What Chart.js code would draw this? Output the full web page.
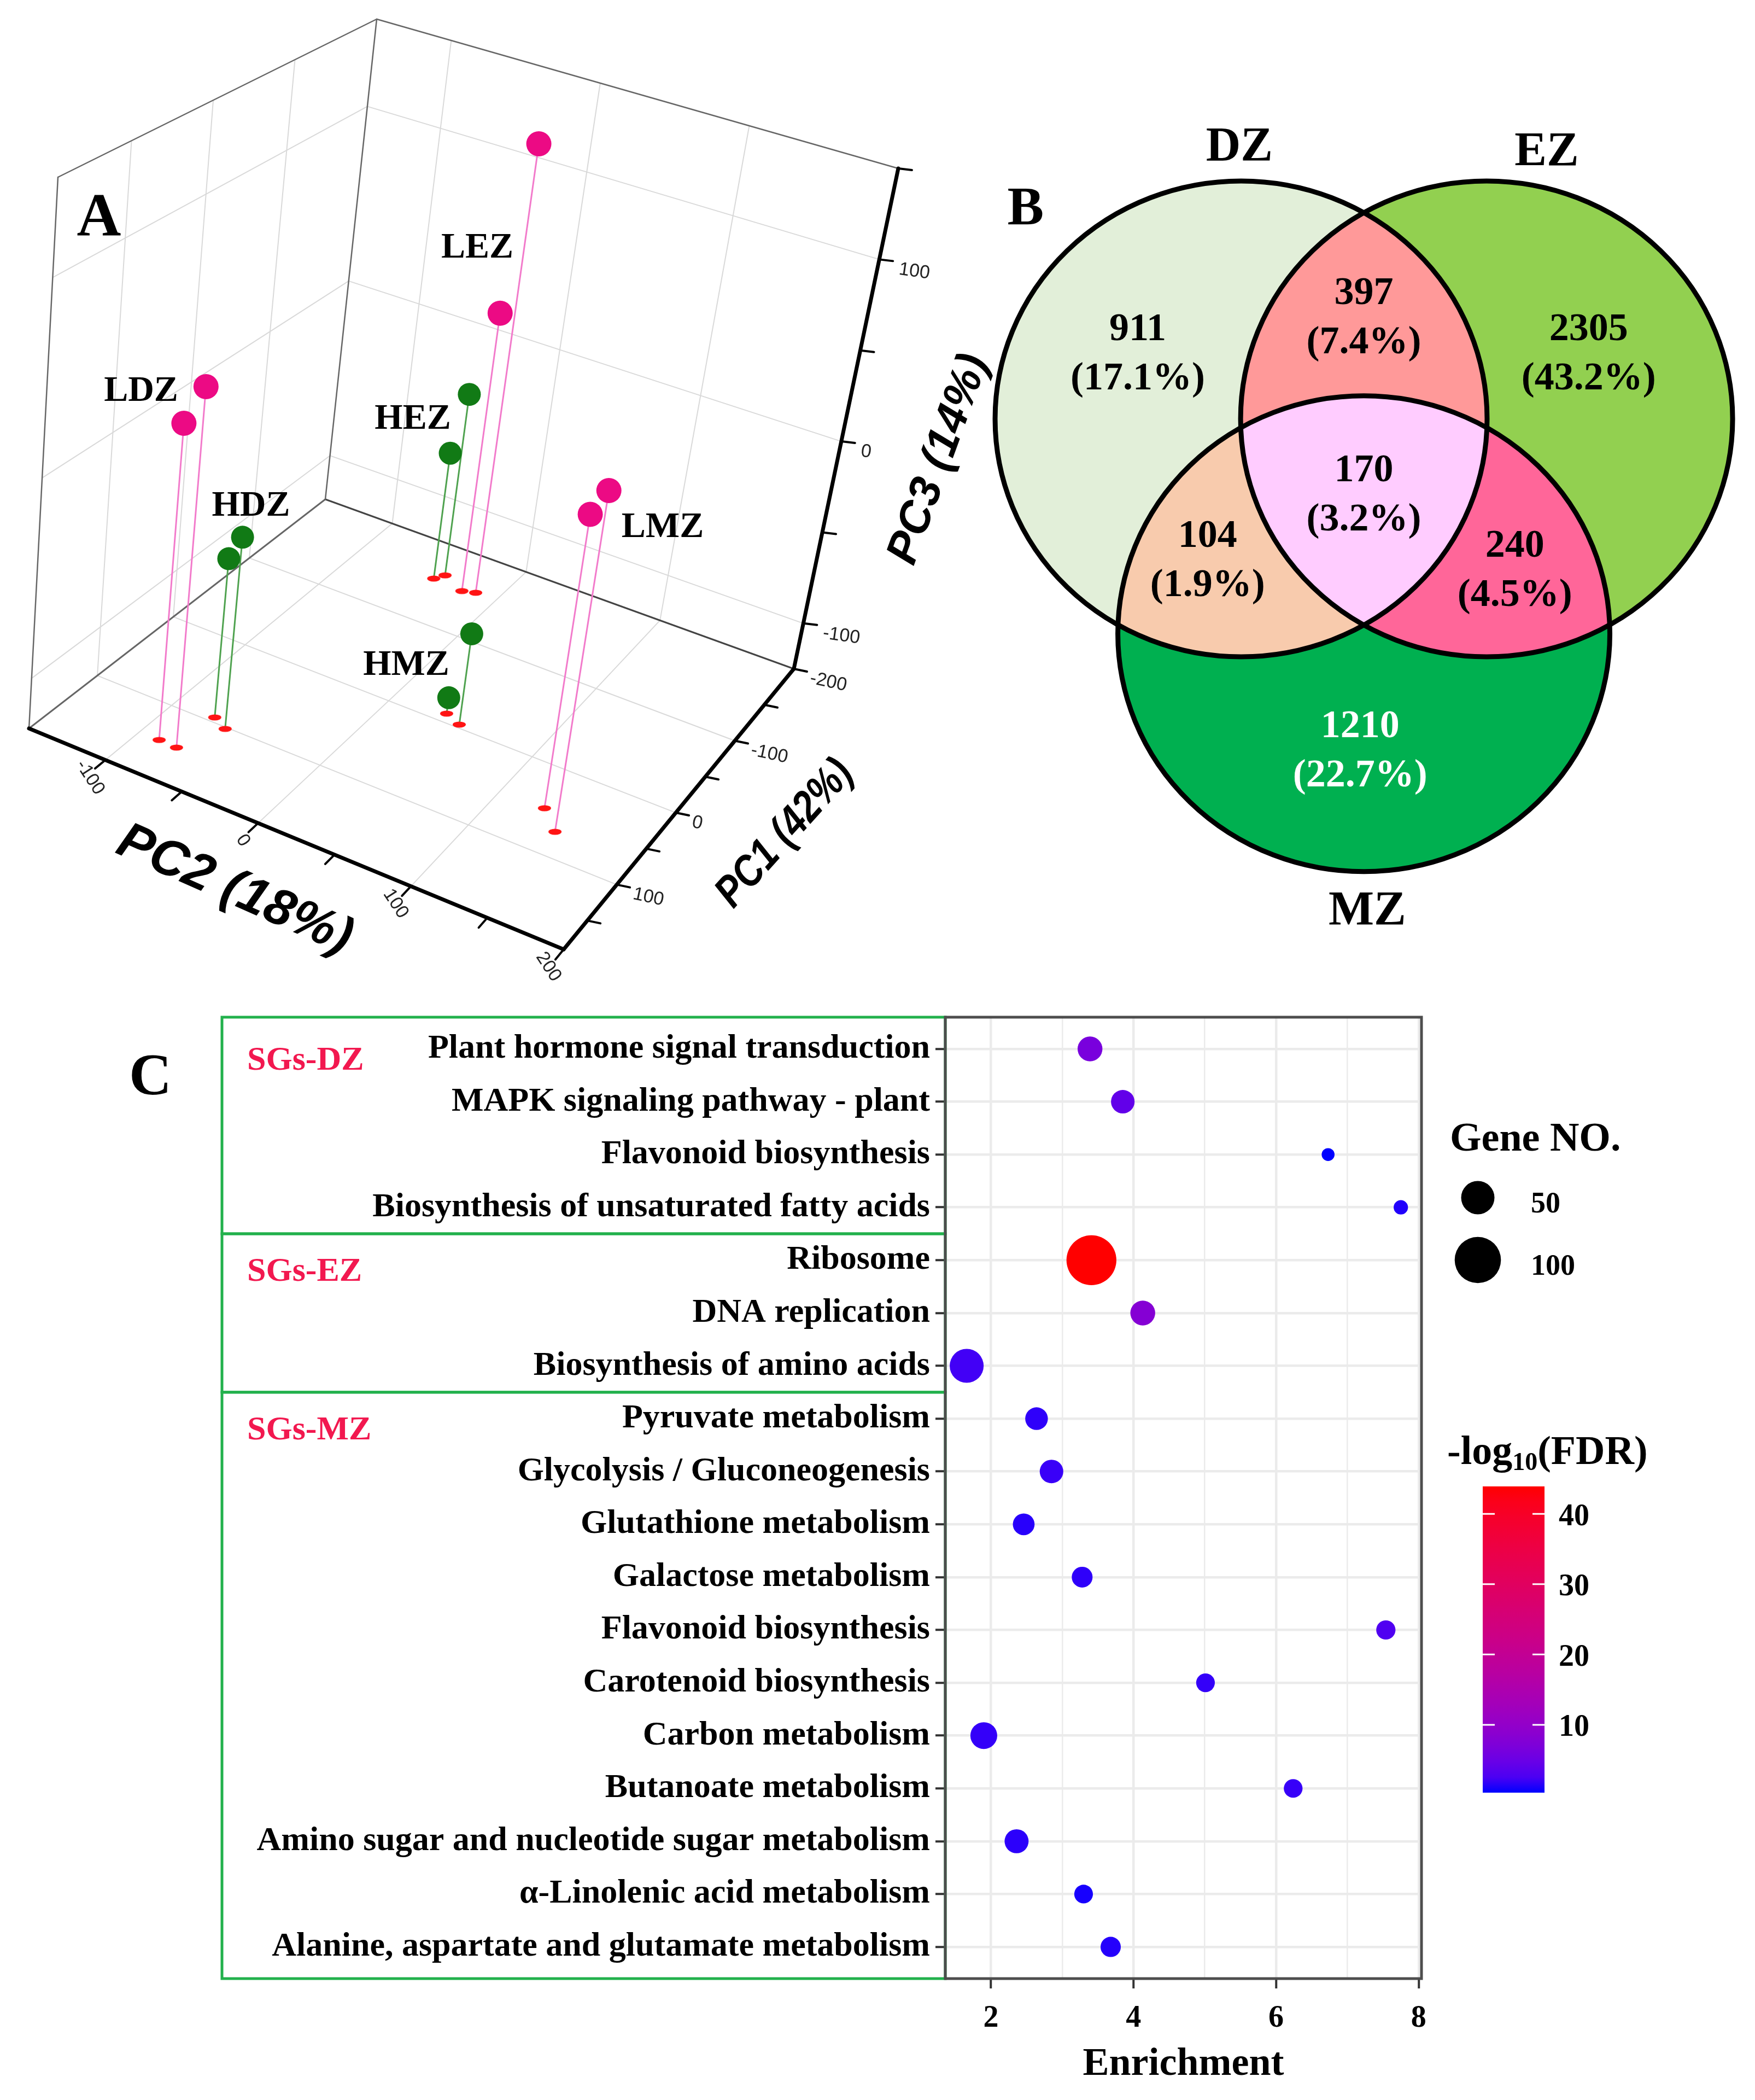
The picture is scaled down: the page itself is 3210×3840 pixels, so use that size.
<!DOCTYPE html>
<html>
<head>
<meta charset="utf-8">
<title>PCA, Venn and KEGG enrichment</title>
<script src="https://cdn.jsdelivr.net/npm/chart.js@4.4.1/dist/chart.umd.min.js"></script>
<style>
  html, body { margin: 0; padding: 0; background: #fff; }
  body { position: relative; width: 3210px; height: 3840px; overflow: hidden; }
  canvas { position: absolute; }
  #pca  { left: 0; top: 0; }
  #venn { left: 1780px; top: 150px; }
  #kegg { left: 0; top: 1840px; }
</style>
</head>
<body>
<canvas id="pca" width="1820" height="1850"></canvas>
<canvas id="venn" width="1430" height="1620"></canvas>
<canvas id="kegg" width="3210" height="2000"></canvas>
<script>
var SERIF = '"Liberation Serif", "Times New Roman", serif';
var SANS = '"Liberation Sans", Arial, sans-serif';

/*************************  Data: panel A (PCA)  ***************************/
var sampleNames = ['LDZ', 'LDZ', 'HDZ', 'HDZ', 'LEZ', 'LEZ', 'HEZ', 'HEZ', 'LMZ', 'LMZ', 'HMZ', 'HMZ'];
var pc1 = [143.7, 144.3, 94.1, 102.1, -152.3, -156.1, -154.7, -163.0, 49.9, 70.5, -10.6, -4.0];
var pc2 = [-86.9, -75.1, -73.8, -62.9, -23.1, -14.9, -45.0, -41.0, 130.2, 146.1, 35.4, 47.3];
var pc3 = [34.3, 56.3, -43.9, -27.5, 29.0, 123.9, -55.3, -24.1, 23.9, 46.4, -116.7, -77.7];
var pc1Ticks = [-200, -100, 0, 100];
var pc2Ticks = [-100, 0, 100, 200];
var pc3Ticks = [-100, 0, 100];
var pcTitles = ['PC1 (42%)', 'PC2 (18%)', 'PC3 (14%)'];

/*************************  Data: panel B (Venn)  **************************/
var vennSets = ['DZ', 'EZ', 'MZ'];
var vennMembers = [[0], [0, 1], [1], [0, 1, 2], [0, 2], [1, 2], [2]];
var vennCounts = [911, 397, 2305, 170, 104, 240, 1210];
var vennPercent = [17.1, 7.4, 43.2, 3.2, 1.9, 4.5, 22.7];

/*************************  Data: panel C (KEGG)  **************************/
var groupNames = ['SGs-DZ', 'SGs-EZ', 'SGs-MZ'];
var groupSizes = [4, 3, 11];
var pathways = [
  'Plant hormone signal transduction', 'MAPK signaling pathway - plant', 'Flavonoid biosynthesis',
  'Biosynthesis of unsaturated fatty acids', 'Ribosome', 'DNA replication', 'Biosynthesis of amino acids',
  'Pyruvate metabolism', 'Glycolysis / Gluconeogenesis', 'Glutathione metabolism', 'Galactose metabolism',
  'Flavonoid biosynthesis', 'Carotenoid biosynthesis', 'Carbon metabolism', 'Butanoate metabolism',
  'Amino sugar and nucleotide sugar metabolism', '\u03b1-Linolenic acid metabolism',
  'Alanine, aspartate and glutamate metabolism'
];
var enrichment = [3.39, 3.85, 6.73, 7.75, 3.41, 4.13, 1.66, 2.64, 2.85, 2.46, 3.28, 7.54, 5.01, 1.90, 6.24, 2.36, 3.30, 3.68];
var geneNo = [26, 23, 4, 6, 117, 26, 52, 21, 23, 19, 17, 14, 13, 31, 13, 24, 13, 16];
var negLogFDR = [6.5, 4.2, 0.35, 0.8, 43.9, 8.0, 2.0, 1.2, 1.6, 1.0, 1.2, 2.8, 1.4, 1.4, 1.5, 1.1, 0.6, 0.9];
var enrichTicks = [2, 4, 6, 8];
var sizeLegend = [50, 100];
var fdrTicks = [10, 20, 30, 40];


/*******************************  Panel A  *********************************/
// ranges of the box: pc1 runs front -> back, pc2 left -> right, pc3 bottom -> top
var boxRange = { pc1: [190, -200], pc2: [-150, 200], pc3: [-125, 150] };
// canvas position of the eight box corners (floor A D C B, roof F H G E)
var boxCorners = {
  A: [53, 1332], D: [1031, 1736], C: [1452, 1223], B: [595, 913],
  F: [106, 324], H: [1199, 688], G: [1643, 308], E: [689, 35]
};
var sampleLabelPos = { LDZ: [258, 716], HDZ: [459, 926], LEZ: [873, 454], HEZ: [755, 767], LMZ: [1212, 965], HMZ: [743, 1217] };

function lerp2(a, b, t) { return [a[0] + (b[0] - a[0]) * t, a[1] + (b[1] - a[1]) * t]; }

function project(p1, p2, p3) {
  var k = boxCorners;
  var u = (p2 - boxRange.pc2[0]) / (boxRange.pc2[1] - boxRange.pc2[0]);
  var v = (p1 - boxRange.pc1[0]) / (boxRange.pc1[1] - boxRange.pc1[0]);
  var w = (p3 - boxRange.pc3[0]) / (boxRange.pc3[1] - boxRange.pc3[0]);
  var floor = lerp2(lerp2(k.A, k.D, u), lerp2(k.B, k.C, u), v);
  var roof = lerp2(lerp2(k.F, k.H, u), lerp2(k.E, k.G, u), v);
  var p = lerp2(floor, roof, w);
  return { x: p[0], y: p[1] };
}

function rotText(ctx, text, x, y, deg, font, align, squeeze) {
  ctx.save();
  ctx.translate(x, y);
  ctx.rotate(deg * Math.PI / 180);
  if (squeeze) ctx.scale(squeeze, 1);
  ctx.font = font;
  ctx.textAlign = align || 'center';
  ctx.textBaseline = 'middle';
  ctx.fillText(text, 0, 0);
  ctx.restore();
}

// small red ellipse marking each sample's foot on the floor
var floorDot = document.createElement('canvas');
floorDot.width = 28; floorDot.height = 14;
(function () {
  var g = floorDot.getContext('2d');
  g.fillStyle = '#ff1414';
  g.beginPath(); g.ellipse(14, 7, 12, 5.5, 0, 0, Math.PI * 2); g.fill();
})();

var pcaAxes = {
  id: 'pcaAxes',
  beforeDatasetsDraw: function (chart) {
    var ctx = chart.ctx, sx = chart.scales.x, sy = chart.scales.y;
    var r1 = boxRange.pc1, r2 = boxRange.pc2, r3 = boxRange.pc3;
    function px(p) { return [sx.getPixelForValue(p.x), sy.getPixelForValue(p.y)]; }
    function line(a, b, colour, width) {
      var p = px(a), q = px(b);
      ctx.beginPath(); ctx.moveTo(p[0], p[1]); ctx.lineTo(q[0], q[1]);
      ctx.strokeStyle = colour; ctx.lineWidth = width; ctx.stroke();
    }
    ctx.save();
    ctx.lineCap = 'round';

    // grid on the floor and on the two back walls
    var grid = '#d9d9d9';
    pc2Ticks.forEach(function (t) {
      if (t >= r2[1]) return;
      line(project(r1[0], t, r3[0]), project(r1[1], t, r3[0]), grid, 2);
      line(project(r1[1], t, r3[0]), project(r1[1], t, r3[1]), grid, 2);
    });
    pc1Ticks.forEach(function (t) {
      if (t <= r1[1]) return;
      line(project(t, r2[0], r3[0]), project(t, r2[1], r3[0]), grid, 2);
      line(project(t, r2[0], r3[0]), project(t, r2[0], r3[1]), grid, 2);
    });
    pc3Ticks.forEach(function (t) {
      line(project(r1[0], r2[0], t), project(r1[1], r2[0], t), grid, 2);
      line(project(r1[1], r2[0], t), project(r1[1], r2[1], t), grid, 2);
    });

    // box edges
    var edge = '#666';
    line(project(r1[0], r2[0], r3[0]), project(r1[1], r2[0], r3[0]), edge, 3);
    line(project(r1[1], r2[0], r3[0]), project(r1[1], r2[1], r3[0]), '#444', 3);
    line(project(r1[0], r2[0], r3[0]), project(r1[0], r2[0], r3[1]), edge, 2.5);
    line(project(r1[0], r2[0], r3[1]), project(r1[1], r2[0], r3[1]), edge, 2.5);
    line(project(r1[1], r2[0], r3[1]), project(r1[1], r2[0], r3[0]), edge, 2.5);
    line(project(r1[1], r2[0], r3[1]), project(r1[1], r2[1], r3[1]), edge, 2.5);

    // the three axes
    line(project(r1[0], r2[0], r3[0]), project(r1[0], r2[1], r3[0]), '#000', 7);
    line(project(r1[0], r2[1], r3[0]), project(r1[1], r2[1], r3[0]), '#000', 7);
    line(project(r1[1], r2[1], r3[0]), project(r1[1], r2[1], r3[1]), '#000', 7);

    // ticks and tick labels
    ctx.fillStyle = '#222';
    var tickFont = '34px ' + SANS;
    var t, p;
    for (t = -100; t <= r2[1]; t += 50) {
      line(project(r1[0], t, r3[0]), project(r1[0] + 14, t, r3[0]), '#000', 4);
      if (pc2Ticks.indexOf(t) >= 0) {
        p = px(project(r1[0], t, r3[0]));
        rotText(ctx, String(t), p[0] - 28, p[1] + 32, 57, tickFont);
      }
    }
    for (t = r1[1]; t < r1[0]; t += 50) {
      p = px(project(t, r2[1], r3[0]));
      ctx.beginPath(); ctx.moveTo(p[0], p[1]); ctx.lineTo(p[0] + 24, p[1] + 5);
      ctx.strokeStyle = '#000'; ctx.lineWidth = 4; ctx.stroke();
      if (pc1Ticks.indexOf(t) >= 0) rotText(ctx, String(t), p[0] + 30, p[1] + 17, 12, tickFont, 'left');
    }
    for (t = -100; t <= r3[1]; t += 50) {
      p = px(project(r1[1], r2[1], t));
      ctx.beginPath(); ctx.moveTo(p[0], p[1]); ctx.lineTo(p[0] + 25, p[1] + 3);
      ctx.strokeStyle = '#000'; ctx.lineWidth = 4; ctx.stroke();
      if (pc3Ticks.indexOf(t) >= 0) rotText(ctx, String(t), p[0] + 36, p[1] + 18, 8, tickFont, 'left');
    }

    // axis titles
    ctx.fillStyle = '#000';
    rotText(ctx, pcTitles[1], 429, 1628, 24, 'italic bold 94px ' + SANS);
    rotText(ctx, pcTitles[0], 1436, 1525, -48, 'italic bold 80px ' + SANS, 'center', 0.85);
    rotText(ctx, pcTitles[2], 1718, 840, -70, 'italic bold 82px ' + SANS);
    ctx.restore();
  },
  afterDatasetsDraw: function (chart) {
    var ctx = chart.ctx;
    ctx.save();
    ctx.fillStyle = '#000';
    ctx.textAlign = 'center';
    ctx.textBaseline = 'middle';
    ctx.font = 'bold 66px ' + SERIF;
    Object.keys(sampleLabelPos).forEach(function (k) {
      ctx.fillText(k, sampleLabelPos[k][0], sampleLabelPos[k][1]);
    });
    ctx.font = 'bold 112px ' + SERIF;
    ctx.fillText('A', 181, 402);
    ctx.restore();
  }
};

var pcaSets = [];
sampleNames.forEach(function (name, i) {
  var low = name.charAt(0) === 'L';
  pcaSets.push({
    data: [project(pc1[i], pc2[i], boxRange.pc3[0]), project(pc1[i], pc2[i], pc3[i])],
    showLine: true, borderColor: low ? '#f27bcb' : '#4fa24f', borderWidth: 3,
    pointRadius: 0, order: 2
  });
});
pcaSets.push({
  data: sampleNames.map(function (n, i) { return project(pc1[i], pc2[i], boxRange.pc3[0]); }),
  pointStyle: floorDot, order: 1
});
pcaSets.push({
  data: sampleNames.map(function (n, i) { return project(pc1[i], pc2[i], pc3[i]); }),
  pointRadius: sampleNames.map(function (n) { return n.charAt(0) === 'L' ? 23 : 21; }),
  pointBackgroundColor: sampleNames.map(function (n) { return n.charAt(0) === 'L' ? '#ec0a84' : '#117a15'; }),
  pointBorderWidth: 0, order: 0
});

new Chart(document.getElementById('pca'), {
  type: 'scatter',
  data: { datasets: pcaSets },
  options: {
    responsive: false, animation: false, devicePixelRatio: 1, events: [],
    layout: { padding: 0, autoPadding: false },
    plugins: { legend: { display: false }, tooltip: { enabled: false } },
    scales: {
      x: { type: 'linear', min: 0, max: 1820, display: false },
      y: { type: 'linear', min: 0, max: 1850, reverse: true, display: false }
    }
  },
  plugins: [pcaAxes]
});


/*******************************  Panel B  *********************************/
// unit circles, stretched by the two scales into the ellipses of the figure
var vennLayout = {
  centres: [[-0.499, 0], [0.499, 0], [0, -0.903]],
  counts: [[-0.919, 0.271], [0, 0.421], [0.914, 0.271], [0, -0.322], [-0.635, -0.598], [0.614, -0.641], [-0.015, -1.398]],
  names: [[-0.506, 1.140], [0.743, 1.119], [0.014, -2.071]],
  panel: [-1.375, 0.878]
};
var vennFill = ['#e2efd9', '#ff9999', '#92d050', '#ffccff', '#f8cbad', '#ff6699', '#00b050'];

var vennPlugin = {
  id: 'venn',
  afterDraw: function (chart) {
    var ctx = chart.ctx, sx = chart.scales.x, sy = chart.scales.y;
    var rx = sx.getPixelForValue(1) - sx.getPixelForValue(0);
    var ry = sy.getPixelForValue(0) - sy.getPixelForValue(1);
    function ellipse(i) {
      var c = vennLayout.centres[i];
      ctx.beginPath();
      ctx.ellipse(sx.getPixelForValue(c[0]), sy.getPixelForValue(c[1]), rx, ry, 0, 0, Math.PI * 2);
    }
    ctx.save();
    var order = vennMembers.map(function (m, i) { return i; })
      .sort(function (a, b) { return vennMembers[a].length - vennMembers[b].length; });
    order.forEach(function (k) {
      var m = vennMembers[k];
      ctx.save();
      for (var j = 1; j < m.length; j++) { ellipse(m[j]); ctx.clip(); }
      ellipse(m[0]);
      ctx.fillStyle = vennFill[k];
      ctx.fill();
      ctx.restore();
    });
    ctx.lineWidth = 9;
    ctx.strokeStyle = '#000';
    for (var i = 0; i < vennSets.length; i++) { ellipse(i); ctx.stroke(); }

    ctx.textAlign = 'center';
    ctx.textBaseline = 'middle';
    ctx.font = 'bold 72px ' + SERIF;
    vennCounts.forEach(function (n, k) {
      var x = sx.getPixelForValue(vennLayout.counts[k][0]);
      var y = sy.getPixelForValue(vennLayout.counts[k][1]);
      ctx.fillStyle = vennMembers[k].length === 1 && vennMembers[k][0] === 2 ? '#fff' : '#000';
      ctx.fillText(String(n), x, y - 45);
      ctx.fillText('(' + vennPercent[k].toFixed(1) + '%)', x, y + 45);
    });
    ctx.fillStyle = '#000';
    ctx.font = 'bold 88px ' + SERIF;
    vennSets.forEach(function (s, i) {
      ctx.fillText(s, sx.getPixelForValue(vennLayout.names[i][0]), sy.getPixelForValue(vennLayout.names[i][1]));
    });
    ctx.font = 'bold 100px ' + SERIF;
    ctx.fillText('B', sx.getPixelForValue(vennLayout.panel[0]), sy.getPixelForValue(vennLayout.panel[1]));
    ctx.restore();
  }
};

new Chart(document.getElementById('venn'), {
  type: 'scatter',
  data: { datasets: [] },
  options: {
    responsive: false, animation: false, devicePixelRatio: 1, events: [],
    layout: { padding: 0, autoPadding: false },
    plugins: { legend: { display: false }, tooltip: { enabled: false } },
    scales: {
      x: { type: 'linear', min: -1.588, max: 1.590, display: false },
      y: { type: 'linear', min: -2.308, max: 1.416, display: false }
    }
  },
  plugins: [vennPlugin]
});


/*******************************  Panel C  *********************************/
var fdrMin = Math.min.apply(null, negLogFDR);
var fdrMax = Math.max.apply(null, negLogFDR);

function geneRadius(n) { return Math.sqrt(69 + 17.2 * n); }

// blue -> red gradient interpolated in Lab, as ggplot does
function toLin(c) { c /= 255; return c <= 0.04045 ? c / 12.92 : Math.pow((c + 0.055) / 1.055, 2.4); }
function toSrgb(c) {
  c = c <= 0.0031308 ? 12.92 * c : 1.055 * Math.pow(c, 1 / 2.4) - 0.055;
  return Math.round(Math.max(0, Math.min(1, c)) * 255);
}
function rgbToLab(rgb) {
  var r = toLin(rgb[0]), g = toLin(rgb[1]), b = toLin(rgb[2]);
  var x = (0.4124 * r + 0.3576 * g + 0.1805 * b) / 0.95047;
  var y = 0.2126 * r + 0.7152 * g + 0.0722 * b;
  var z = (0.0193 * r + 0.1192 * g + 0.9505 * b) / 1.08883;
  function f(t) { return t > 0.008856 ? Math.cbrt(t) : 7.787 * t + 16 / 116; }
  return [116 * f(y) - 16, 500 * (f(x) - f(y)), 200 * (f(y) - f(z))];
}
function labToRgb(lab) {
  var fy = (lab[0] + 16) / 116, fx = fy + lab[1] / 500, fz = fy - lab[2] / 200;
  function fi(t) { return t > 0.206893 ? t * t * t : (t - 16 / 116) / 7.787; }
  var x = 0.95047 * fi(fx), y = fi(fy), z = 1.08883 * fi(fz);
  var r = 3.2406 * x - 1.5372 * y - 0.4986 * z;
  var g = -0.9689 * x + 1.8758 * y + 0.0415 * z;
  var b = 0.0557 * x - 0.2040 * y + 1.0570 * z;
  return 'rgb(' + toSrgb(r) + ',' + toSrgb(g) + ',' + toSrgb(b) + ')';
}
var labLow = rgbToLab([0, 0, 255]), labHigh = rgbToLab([255, 0, 0]);
function fdrColour(v) {
  var t = Math.max(0, Math.min(1, (v - fdrMin) / (fdrMax - fdrMin)));
  return labToRgb([0, 1, 2].map(function (i) { return labLow[i] + (labHigh[i] - labLow[i]) * t; }));
}

var keggDecor = {
  id: 'keggDecor',
  afterDatasetsDraw: function (chart) {
    var ctx = chart.ctx, a = chart.chartArea, sy = chart.scales.y;
    ctx.save();

    // green group boxes with their labels
    var first = 1, boxLeft = 406;
    groupNames.forEach(function (g, k) {
      var last = first + groupSizes[k] - 1;
      var top = k === 0 ? a.top : sy.getPixelForValue(first - 0.5);
      var bottom = k === groupNames.length - 1 ? a.bottom : sy.getPixelForValue(last + 0.5);
      ctx.strokeStyle = '#22b14c';
      ctx.lineWidth = 5;
      ctx.strokeRect(boxLeft, top, a.left - boxLeft, bottom - top);
      ctx.fillStyle = '#f2184f';
      ctx.font = 'bold 62px ' + SERIF;
      ctx.textAlign = 'left';
      ctx.textBaseline = 'middle';
      ctx.fillText(g, 452, sy.getPixelForValue(first) + 22);
      first = last + 1;
    });

    // panel border
    ctx.strokeStyle = '#4d4d4d';
    ctx.lineWidth = 5;
    ctx.strokeRect(a.left, a.top, a.right - a.left, a.bottom - a.top);

    ctx.fillStyle = '#000';
    ctx.textAlign = 'center';
    ctx.font = 'bold 108px ' + SERIF;
    ctx.fillText('C', 275, 133);

    // size legend
    ctx.textAlign = 'left';
    ctx.font = 'bold 74px ' + SERIF;
    ctx.fillText('Gene NO.', 2652, 245);
    ctx.font = 'bold 54px ' + SERIF;
    [350, 464].forEach(function (y, i) {
      ctx.beginPath();
      ctx.arc(2703, y, geneRadius(sizeLegend[i]), 0, Math.PI * 2);
      ctx.fill();
      ctx.fillText(String(sizeLegend[i]), 2800, y + 13);
    });

    // colour bar
    var cb = { x: 2712, y: 878, w: 113, h: 560 };
    ctx.font = 'bold 74px ' + SERIF;
    var tx = 2647, ty = 818;
    ctx.fillText('-log', tx, ty);
    tx += ctx.measureText('-log').width;
    ctx.font = 'bold 46px ' + SERIF;
    ctx.fillText('10', tx, ty + 18);
    tx += ctx.measureText('10').width;
    ctx.font = 'bold 74px ' + SERIF;
    ctx.fillText('(FDR)', tx, ty);

    var grad = ctx.createLinearGradient(0, cb.y + cb.h, 0, cb.y);
    for (var s = 0; s <= 20; s++) grad.addColorStop(s / 20, fdrColour(fdrMin + (fdrMax - fdrMin) * s / 20));
    ctx.fillStyle = grad;
    ctx.fillRect(cb.x, cb.y, cb.w, cb.h);
    ctx.strokeStyle = '#fff';
    ctx.lineWidth = 3;
    ctx.fillStyle = '#000';
    ctx.font = 'bold 56px ' + SERIF;
    fdrTicks.forEach(function (v) {
      var y = cb.y + cb.h - (v - fdrMin) / (fdrMax - fdrMin) * cb.h;
      ctx.beginPath();
      ctx.moveTo(cb.x, y); ctx.lineTo(cb.x + 22, y);
      ctx.moveTo(cb.x + cb.w - 22, y); ctx.lineTo(cb.x + cb.w, y);
      ctx.stroke();
      ctx.fillText(String(v), 2851, y + 6);
    });
    ctx.restore();
  }
};

new Chart(document.getElementById('kegg'), {
  type: 'bubble',
  data: {
    datasets: [{
      data: pathways.map(function (p, i) { return { x: enrichment[i], y: i + 1, r: geneRadius(geneNo[i]) }; }),
      backgroundColor: negLogFDR.map(fdrColour),
      borderWidth: 0
    }]
  },
  options: {
    responsive: false, animation: false, devicePixelRatio: 1, events: [],
    layout: { padding: { left: 0, top: 20, right: 610, bottom: 0 }, autoPadding: false },
    plugins: { legend: { display: false }, tooltip: { enabled: false } },
    scales: {
      x: {
        type: 'linear', min: 1.36, max: 8.04,
        afterBuildTicks: function (scale) {
          var t = [];
          for (var v = enrichTicks[0]; v <= enrichTicks[enrichTicks.length - 1]; v++) t.push({ value: v });
          scale.ticks = t;
        },
        afterFit: function (scale) { scale.height = 222; },
        border: { display: false },
        grid: {
          color: '#ebebeb',
          lineWidth: function (c) { return enrichTicks.indexOf(c.tick.value) >= 0 ? 4.5 : 2.5; },
          tickLength: 18, tickWidth: 4,
          tickColor: function (c) { return enrichTicks.indexOf(c.tick.value) >= 0 ? '#333' : 'rgba(0,0,0,0)'; }
        },
        ticks: {
          autoSkip: false, maxRotation: 0, padding: 22, color: '#000',
          font: { family: SERIF, size: 56, weight: 'bold' },
          callback: function (v) { return enrichTicks.indexOf(v) >= 0 ? String(v) : ''; }
        },
        title: {
          display: true, text: 'Enrichment', color: '#000',
          font: { family: SERIF, size: 72, weight: 'bold' },
          padding: { top: 0, bottom: 21 }
        }
      },
      y: {
        type: 'linear', min: 0.4, max: 18.6, reverse: true,
        afterBuildTicks: function (scale) {
          scale.ticks = pathways.map(function (p, i) { return { value: i + 1 }; });
        },
        afterFit: function (scale) { scale.width = 1729; },
        border: { display: false },
        grid: { color: '#ebebeb', lineWidth: 4.5, tickLength: 18, tickWidth: 4, tickColor: '#333' },
        ticks: {
          autoSkip: false, padding: 10, color: '#000',
          // tiny line height: single-line labels still centre on their row,
          // but the axis no longer reserves label room above the plot
          font: { family: SERIF, size: 62, weight: 'bold', lineHeight: 0.1 },
          callback: function (v) { return pathways[Math.round(v) - 1]; }
        }
      }
    }
  },
  plugins: [keggDecor]
});
</script>
</body>
</html>
